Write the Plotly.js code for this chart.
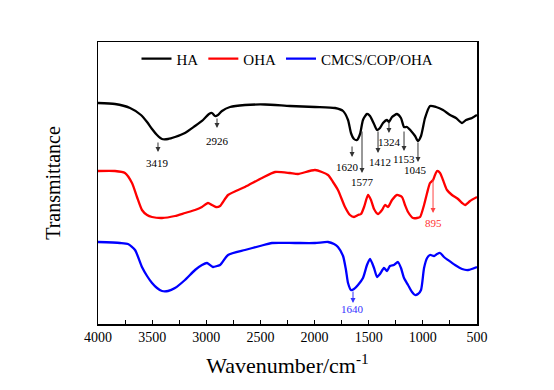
<!DOCTYPE html>
<html>
<head>
<meta charset="utf-8">
<script src="https://cdn.plot.ly/plotly-3.0.1.min.js"></script>
<style>html,body{margin:0;padding:0;background:#fff;}#chart{width:554px;height:390px;}</style>
</head>
<body>
<div id="chart"></div>
<script>
// Wavenumbers (cm^-1) and transmittance (arbitrary offset units)
const haWave = [4000,3843,3704,3603,3547,3501,3455,3409,3353,3289,3197,3104,3030,2975,2947,2920,2892,2855,2781,2643,2458,2227,1996,1811,1737,1691,1664,1636,1608,1580,1553,1516,1488,1451,1423,1396,1368,1331,1313,1285,1239,1202,1174,1146,1109,1072,1045,1017,980,934,878,814,749,694,638,601,546,500];
const haT = [221,220,216,209,202,195,189,185,185,187,191,198,204,210,211,208,209,213,217,219,219.5,218,217,216,213,204,191,185,184,190,204,210,208,200,194,196,201,204,202,207,210,206,197,197,193,188,183,188,206,218,217,214,209,206,201,204,206,209];

const ohaWave = [4000,3843,3751,3686,3640,3594,3547,3501,3409,3289,3197,3104,3040,2984,2947,2910,2873,2799,2643,2485,2365,2227,2153,1996,1876,1830,1784,1719,1673,1636,1599,1571,1543,1506,1479,1451,1414,1377,1350,1322,1285,1239,1193,1165,1137,1091,1054,1026,989,961,934,906,888,869,841,814,777,731,675,638,610,564,500];
const ohaT = [153,153,151,141,127,114,109,107,106,108,111,114,117,121,119,117,118,129,137,146,152,151,150,154,149,142,134,117,109,107,109,110,117,129,124,115,110,114,119,117,124,129,127,119,112,106,106,107,119,131,141,144,149,153,151,144,134,129,125,121,119,123,127];

const cmWave = [4000,3797,3723,3658,3594,3547,3501,3455,3409,3353,3289,3197,3104,3040,2993,2938,2901,2873,2799,2643,2504,2393,2181,1996,1876,1820,1784,1737,1710,1691,1664,1636,1599,1553,1516,1488,1451,1423,1396,1359,1331,1304,1267,1230,1202,1174,1137,1100,1072,1045,1017,989,961,934,897,869,841,805,768,703,638,583,500];
const cmT = [82,81,80,74,57,48,41,36,33,33,36,44,54,59,61,57,58,59,69,74,78,81,81,81,82,80,77,68,54,41,34,35,39,46,59,65,56,47,50,56,53,58,59,62,56,46,39,32,29,30,34,56,66,69,68,70,71,67,64,59,55,54,57];

// Peak markers
const haPeakLabels = ['3419','2926','1620','1577','1412','1324','1153','1045'];
const haPeakX      = [3446,2901,1654,1562,1414,1313,1174,1045];
const haArrowTop   = [183,207,179,194,194,204,194,183];
const haArrowBot   = [172,196,167,151,171,191,173,162];
const haLabelX     = [3446,2901,1700,1553,1396,1304,1174,1064];
const haLabelY     = [161,183,157,142,162,182,165,154];

const ohaPeakLabels = ['895'];
const ohaPeakX = [906]; const ohaArrowTop=[146]; const ohaArrowBot=[111]; const ohaLabelX=[906]; const ohaLabelY=[101];
const cmPeakLabels = ['1640'];
const cmPeakX = [1645]; const cmArrowTop=[34]; const cmArrowBot=[21]; const cmLabelX=[1654]; const cmLabelY=[15];

const xTicks = [4000,3500,3000,2500,2000,1500,1000,500];

const serif = '"Liberation Serif", serif';
const traces = [
  {x: haWave, y: haT, name: 'HA', mode: 'lines', line: {color: '#000000', width: 2.3, shape: 'spline', smoothing: 0.6}},
  {x: ohaWave, y: ohaT, name: 'OHA', mode: 'lines', line: {color: '#ff0000', width: 2.3, shape: 'spline', smoothing: 0.6}},
  {x: cmWave, y: cmT, name: 'CMCS/COP/OHA', mode: 'lines', line: {color: '#0000ff', width: 2.3, shape: 'spline', smoothing: 0.6}}
];

const annotations = [];
function addPeaks(xs, tops, bots, lx, ly, labels, color, txtColor) {
  for (let i = 0; i < xs.length; i++) {
    annotations.push({x: xs[i], y: bots[i], ax: xs[i], ay: tops[i], axref: 'x', ayref: 'y', xref: 'x', yref: 'y',
      text: '', showarrow: true, arrowhead: 2, arrowsize: 1, arrowwidth: 1, arrowcolor: color});
    annotations.push({x: lx[i], y: ly[i], xref: 'x', yref: 'y', text: labels[i], showarrow: false,
      font: {family: serif, size: 11, color: txtColor}});
  }
}
addPeaks(haPeakX, haArrowTop, haArrowBot, haLabelX, haLabelY, haPeakLabels, '#333333', '#000000');
addPeaks(ohaPeakX, ohaArrowTop, ohaArrowBot, ohaLabelX, ohaLabelY, ohaPeakLabels, '#ff4444', '#ff3333');
addPeaks(cmPeakX, cmArrowTop, cmArrowBot, cmLabelX, cmLabelY, cmPeakLabels, '#3333ff', '#3333ff');

const layout = {
  width: 554, height: 390,
  margin: {l: 98, r: 77, t: 42, b: 66},
  paper_bgcolor: '#ffffff', plot_bgcolor: '#ffffff',
  font: {family: serif},
  showlegend: true,
  legend: {orientation: 'h', x: 0.5, xanchor: 'center', y: 0.94, yanchor: 'middle',
    font: {family: serif, size: 15, color: '#000'}, bgcolor: 'rgba(0,0,0,0)', itemwidth: 30},
  xaxis: {range: [4000, 500], tickvals: xTicks, ticktext: xTicks.map(String),
    ticks: 'inside', ticklen: 4, tickwidth: 1, tickcolor: '#000',
    minor: {dtick: 250, ticks: 'inside', ticklen: 4, tickwidth: 1, tickcolor: '#000'},
    showgrid: false, zeroline: false, showline: true, linecolor: '#000', linewidth: 1.5, mirror: true,
    tickfont: {family: serif, size: 14, color: '#000'},
    title: {text: 'Wavenumber/cm<sup>-1</sup>', font: {family: serif, size: 22, color: '#000'}, standoff: 13}},
  yaxis: {range: [0, 282], showticklabels: false, ticks: '', showgrid: false, zeroline: false,
    showline: true, linecolor: '#000', linewidth: 1.5, mirror: true,
    title: {text: 'Transmittance', font: {family: serif, size: 20, color: '#000'}, standoff: 30}},
  annotations: annotations
};

Plotly.newPlot('chart', traces, layout, {displayModeBar: false, staticPlot: true});
</script>
</body>
</html>
